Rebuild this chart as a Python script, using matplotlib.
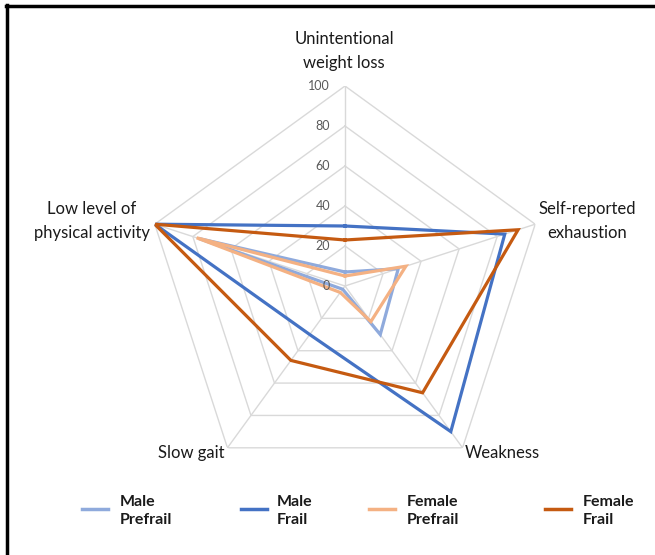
import numpy as np
import matplotlib
matplotlib.use("Agg")
import matplotlib.pyplot as plt
from matplotlib.lines import Line2D

plt.rcParams["font.family"] = ["Lato", "DejaVu Sans"]

# chart data
categories = ["Unintentional\nweight loss", "Self-reported\nexhaustion", "Weakness",
              "Slow gait", "Low level of\nphysical activity"]
series_names = ["Male\nPrefrail", "Male\nFrail", "Female\nPrefrail", "Female\nFrail"]
male_prefrail = [7, 28, 30, 2, 77]
male_frail = [30, 84, 90, 30, 100]
female_prefrail = [5, 32, 22, 4, 78]
female_frail = [23, 91, 66, 46, 100]
ring_values = [20, 40, 60, 80, 100]
tick_labels = ["0", "20", "40", "60", "80", "100"]

colors = ["#8FAADC", "#4472C4", "#F4B183", "#C55A11"]

W, H = 655, 555
fig = plt.figure(figsize=(W / 100, H / 100), dpi=100)


def px(x, y):
    return x / W, 1 - y / H


cx, cy, rad = 345, 286, 200
ax = fig.add_axes([(cx - rad) / W, (H - cy - rad) / H, 2 * rad / W, 2 * rad / H],
                  projection="polar")
ax.set_theta_offset(np.pi / 2)
ax.set_theta_direction(-1)
ax.set_ylim(0, 100)
ax.grid(False)
ax.spines["polar"].set_visible(False)
ax.set_xticks([])
ax.set_yticks([])
ax.patch.set_alpha(0)

n = len(categories)
theta = np.linspace(0, 2 * np.pi, n, endpoint=False)
theta_closed = np.append(theta, theta[0])

# pentagon grid
for r in ring_values:
    ax.plot(theta_closed, [r] * (n + 1), color="#D9D9D9", lw=1.0, zorder=1)
for t in theta:
    ax.plot([t, t], [0, 100], color="#D9D9D9", lw=1.0, zorder=1)

all_series = [male_prefrail, male_frail, female_prefrail, female_frail]
for vals, col in zip(all_series, colors):
    v = np.append(vals, vals[0])
    ax.plot(theta_closed, v, color=col, lw=2.3, zorder=3, solid_joinstyle="miter")

# radial tick labels
for i, lab in enumerate(tick_labels):
    r = i * 20
    x_, y_ = cx, cy - r * 2
    fig.text(*px(x_ - 15, y_), lab, ha="right", va="center", fontsize=9,
             color="#595959")

# category labels
label_pos = [(344, 51), (587, 221), (502, 453), (191, 453), (92, 221)]
for lab, (x_, y_) in zip(categories, label_pos):
    fig.text(*px(x_, y_), lab, ha="center", va="center", fontsize=12,
             color="#1a1a1a", linespacing=1.55)

# legend entries
leg_x = [82, 241, 369, 545]
leg_text_x = [120, 277, 407, 583]
for name, col, x_, tx in zip(series_names, colors, leg_x, leg_text_x):
    fig.add_artist(Line2D([x_ / W, (x_ + 26) / W], [1 - 509 / H] * 2,
                          color=col, lw=2.5))
    fig.text(*px(tx, 511), name, ha="left", va="center", fontsize=11.5,
             fontweight="bold", color="#1a1a1a", linespacing=1.45)

# frame
fig.add_artist(Line2D([6 / W, 1.0], [1 - 6 / H] * 2, color="black", lw=2.5))
fig.add_artist(Line2D([7 / W] * 2, [0.0, 1 - 5 / H], color="black", lw=2.5))

fig.savefig("out.png", dpi=100)
